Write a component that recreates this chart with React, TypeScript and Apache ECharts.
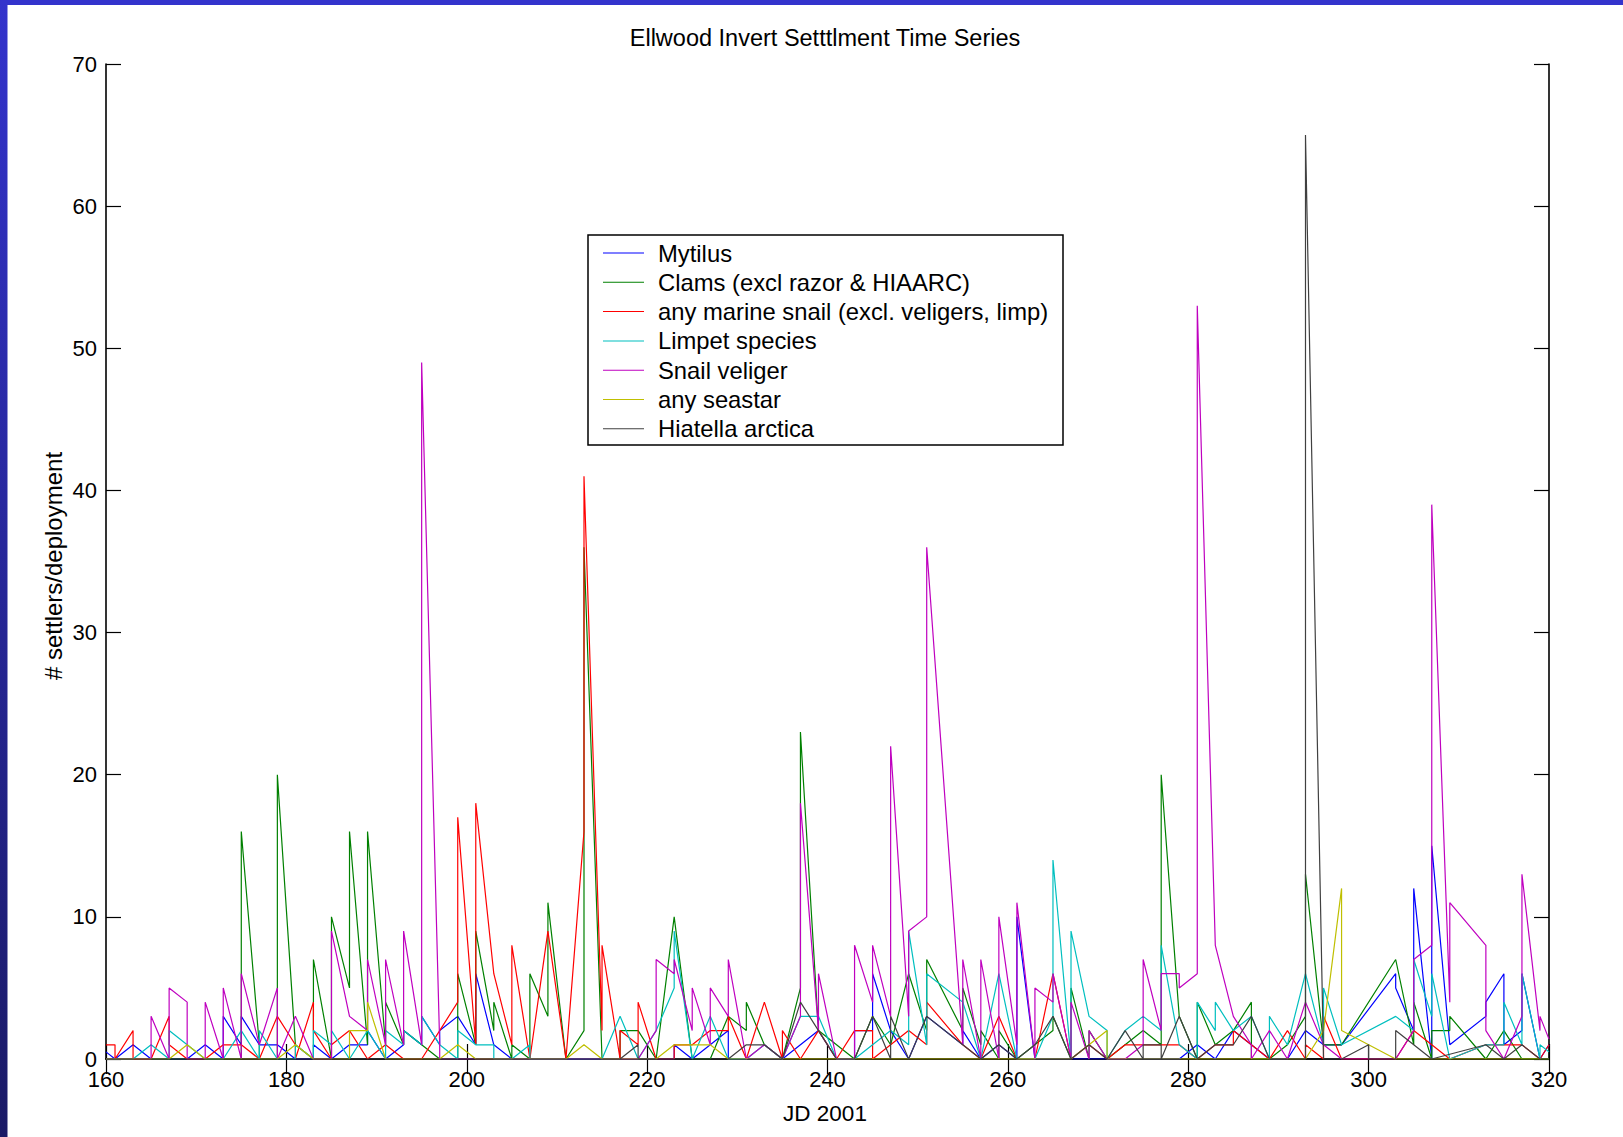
import React, { useEffect, useRef } from "react";
import * as echarts from "echarts";

const chartTitle = "Ellwood Invert Setttlment Time Series";
const xAxisName = "JD 2001";
const yAxisName = "# settlers/deployment";

const seriesNames = [
  "Mytilus",
  "Clams (excl razor & HIAARC)",
  "any marine snail (excl. veligers, limp)",
  "Limpet species",
  "Snail veliger",
  "any seastar",
  "Hiatella arctica",
];
const seriesColors = ["#0000ff", "#008000", "#ff0000", "#00bfbf", "#bf00bf", "#bfbf00", "#404040"];

const mytilus: [number, number][] = [
  [160, 0.5], [161, 0], [163, 1], [165, 0], [167, 0], [169, 0], [171, 1], [173, 0], [173, 3], [175, 1], [175, 3], [177, 1],
  [179, 1], [181, 0], [183, 0], [183, 1], [185, 0], [187, 1], [189, 1], [189, 2], [191, 0], [193, 1], [193, 2], [195, 1],
  [195, 3], [197, 1], [197, 2], [199, 3], [201, 1], [201, 6], [203, 1], [205, 0], [207, 0], [209, 0], [211, 0], [213, 0],
  [215, 0], [217, 0], [219, 0], [221, 0], [223, 0], [223, 1], [225, 0], [227, 1], [229, 2], [229, 0], [231, 0], [233, 0],
  [235, 0], [237, 1], [239, 2], [241, 0], [243, 0], [243, 2], [245, 2], [245, 6], [247, 2], [249, 0], [251, 3], [255, 1],
  [255, 2], [257, 0], [259, 1], [261, 0], [261, 10], [263, 0], [265, 0], [267, 0], [269, 0], [271, 0], [273, 0], [275, 0],
  [277, 0], [279, 0], [281, 1], [283, 0], [285, 2], [287, 1], [289, 0], [291, 0], [293, 2], [295, 1], [297, 1], [303, 6],
  [303, 5], [305, 2], [305, 12], [307, 0], [307, 15], [309, 1], [313, 3], [313, 4], [315, 6], [315, 1], [317, 2], [317, 6],
  [319, 0], [320, 1],
];

const clams: [number, number][] = [
  [160, 0], [161, 0], [163, 0], [165, 0], [167, 0], [169, 0], [171, 0], [173, 0], [175, 0], [175, 16], [177, 1], [177, 0],
  [179, 0], [179, 20], [181, 1], [183, 0], [183, 7], [185, 0], [185, 10], [187, 5], [187, 16], [189, 1], [189, 16], [191, 1],
  [191, 4], [193, 1], [193, 2], [195, 1], [197, 0], [199, 0], [199, 6], [201, 1], [201, 9], [203, 2], [203, 4], [205, 0],
  [205, 1], [207, 0], [207, 6], [209, 3], [209, 11], [211, 0], [213, 2], [213, 36], [215, 0], [217, 0], [217, 2], [219, 2],
  [221, 0], [223, 10], [225, 0], [227, 0], [229, 3], [231, 2], [231, 4], [233, 1], [235, 0], [237, 5], [237, 23], [239, 2],
  [241, 1], [243, 0], [245, 3], [247, 1], [249, 6], [251, 2], [251, 7], [255, 2], [255, 5], [257, 1], [257, 2], [259, 0],
  [259, 2], [261, 0], [263, 1], [265, 2], [265, 3], [267, 0], [267, 5], [269, 0], [269, 2], [271, 0], [273, 1], [275, 2],
  [277, 1], [277, 20], [279, 3], [281, 0], [281, 4], [283, 1], [285, 2], [287, 4], [287, 0], [289, 0], [291, 1], [293, 3],
  [293, 13], [295, 1], [297, 1], [303, 7], [305, 1], [305, 4], [307, 0], [307, 2], [309, 2], [309, 3], [313, 0], [315, 2],
  [317, 0], [319, 0], [320, 0],
];

const marineSnail: [number, number][] = [
  [160, 1], [161, 1], [161, 0], [163, 2], [163, 0], [165, 0], [167, 3], [167, 1], [169, 0], [171, 0], [173, 1], [175, 1],
  [177, 0], [179, 3], [181, 1], [181, 0], [183, 4], [183, 2], [185, 0], [185, 1], [187, 2], [189, 0], [191, 1], [193, 0],
  [195, 0], [197, 2], [199, 4], [199, 17], [201, 1], [201, 18], [203, 6], [205, 1], [205, 8], [207, 0], [209, 9], [211, 0],
  [213, 16], [213, 41], [215, 2], [215, 8], [217, 0], [217, 2], [219, 1], [219, 4], [221, 0], [223, 0], [223, 1], [225, 1],
  [227, 2], [229, 2], [229, 3], [231, 0], [233, 4], [235, 0], [235, 2], [237, 0], [239, 2], [241, 0], [243, 2], [245, 2],
  [245, 0], [247, 1], [249, 2], [251, 1], [251, 4], [255, 1], [257, 0], [259, 3], [261, 0], [263, 0], [265, 6], [267, 0],
  [269, 1], [271, 0], [273, 1], [275, 1], [277, 1], [279, 1], [281, 0], [283, 1], [285, 1], [285, 2], [287, 1], [289, 0],
  [291, 2], [293, 0], [293, 1], [295, 0], [295, 3], [297, 0], [303, 0], [305, 2], [307, 1], [309, 0], [313, 1], [315, 1],
  [317, 1], [319, 0], [320, 1],
];

const limpet: [number, number][] = [
  [160, 0], [163, 0], [165, 1], [167, 0], [167, 2], [169, 1], [171, 0], [173, 0], [175, 2], [177, 0], [177, 2], [179, 0],
  [181, 0], [181, 1], [183, 0], [183, 2], [185, 1], [185, 2], [187, 0], [189, 2], [191, 0], [191, 2], [193, 1], [193, 2],
  [195, 1], [195, 3], [197, 1], [199, 0], [199, 2], [201, 1], [203, 1], [203, 0], [205, 0], [207, 1], [207, 0], [209, 0],
  [211, 0], [213, 0], [215, 0], [217, 3], [219, 0], [221, 2], [223, 5], [223, 9], [225, 0], [227, 3], [229, 0], [231, 0],
  [233, 1], [235, 0], [237, 3], [239, 3], [241, 0], [243, 0], [245, 1], [247, 2], [249, 1], [249, 9], [251, 1], [251, 6],
  [255, 4], [257, 0], [259, 6], [261, 0], [263, 0], [265, 3], [265, 14], [267, 0], [267, 9], [269, 3], [271, 2], [271, 0],
  [273, 2], [275, 3], [277, 2], [277, 8], [279, 1], [281, 0], [281, 4], [283, 2], [283, 4], [285, 2], [287, 3], [289, 0],
  [289, 3], [291, 1], [293, 6], [295, 1], [295, 5], [297, 1], [303, 3], [305, 2], [305, 7], [307, 3], [307, 6], [309, 0],
  [313, 1], [315, 1], [315, 4], [317, 1], [317, 6], [319, 0], [319, 1], [320, 0.5],
];

const snailVeliger: [number, number][] = [
  [160, 0], [163, 0], [165, 0], [165, 3], [167, 0], [167, 5], [169, 4], [169, 0], [171, 0], [171, 4], [173, 0], [173, 5],
  [175, 0], [175, 6], [177, 1], [179, 5], [179, 0], [181, 3], [183, 0], [185, 0], [185, 9], [187, 3], [189, 2], [189, 7],
  [191, 1], [191, 7], [193, 1], [193, 9], [195, 1], [195, 49], [197, 1], [197, 0], [199, 0], [201, 0], [203, 0], [205, 0],
  [207, 0], [209, 0], [211, 0], [213, 0], [215, 0], [217, 0], [219, 0], [221, 2], [221, 7], [223, 6], [223, 7], [225, 2],
  [225, 5], [227, 1], [227, 5], [229, 3], [229, 7], [231, 0], [233, 1], [235, 0], [237, 3], [237, 18], [239, 2], [239, 6],
  [241, 0], [243, 0], [243, 8], [245, 4], [245, 8], [247, 3], [247, 22], [249, 3], [249, 9], [251, 10], [251, 36], [255, 1],
  [255, 7], [257, 0], [257, 7], [259, 0], [259, 10], [261, 1], [261, 11], [263, 0], [263, 5], [265, 4], [265, 6], [267, 0],
  [267, 4], [269, 0], [269, 2], [271, 0], [273, 0], [275, 1], [275, 7], [277, 2], [277, 6], [279, 6], [279, 5], [281, 6],
  [281, 53], [283, 8], [285, 3], [287, 1], [287, 0], [289, 2], [291, 0], [293, 4], [295, 1], [297, 0], [303, 0], [305, 2],
  [305, 7], [307, 8], [307, 39], [309, 4], [309, 11], [313, 8], [313, 2], [315, 0], [317, 3], [317, 13], [319, 2], [319, 3],
  [320, 1.4],
];

const seastar: [number, number][] = [
  [160, 0], [167, 0], [169, 1], [171, 0], [179, 0], [181, 1], [183, 0], [187, 0], [187, 2], [189, 2], [189, 4], [191, 0],
  [195, 0], [197, 0], [199, 1], [201, 0], [211, 0], [213, 1], [215, 0], [219, 0], [221, 0], [223, 1], [225, 1], [227, 1],
  [229, 0], [241, 0], [265, 0], [267, 0], [269, 1], [271, 2], [271, 0], [293, 0], [295, 2], [297, 12], [297, 2], [300, 1],
  [303, 0], [320, 0],
];

const hiatella: [number, number][] = [
  [160, 0], [181, 0], [183, 0], [213, 0], [215, 0], [217, 0], [219, 1], [219, 0], [229, 0], [231, 1], [233, 1], [235, 0],
  [237, 4], [239, 2], [241, 0], [243, 0], [245, 3], [247, 0], [247, 3], [249, 0], [251, 3], [255, 1], [257, 0], [259, 1],
  [261, 0], [263, 1], [265, 3], [267, 0], [269, 1], [271, 0], [273, 2], [275, 0], [275, 1], [277, 1], [277, 0], [279, 3],
  [281, 0], [283, 1], [285, 1], [287, 3], [289, 0], [291, 0], [293, 0], [293, 65], [295, 0], [297, 0], [300, 1], [300, 0],
  [303, 0], [303, 2], [305, 1], [307, 0], [313, 1], [315, 0], [317, 1], [319, 0], [320, 0],
];

const seriesData = [mytilus, clams, marineSnail, limpet, snailVeliger, seastar, hiatella];

const FONT = "Liberation Sans, Arial, sans-serif";

export default function App() {
  const ref = useRef<HTMLDivElement>(null);

  useEffect(() => {
    document.body.style.margin = "0";
    const chart = echarts.init(ref.current!, null, { renderer: "svg" });

    const axisCommon = {
      type: "value",
      axisLine: { show: true, lineStyle: { color: "#000", width: 1.6 } },
      axisTick: { show: true, inside: true, length: 15, lineStyle: { color: "#000", width: 1.2 } },
      splitLine: { show: false },
    };

    chart.setOption({
      animation: false,
      backgroundColor: "#ffffff",
      grid: { left: 106, top: 64, right: 74, bottom: 78, containLabel: false },
      xAxis: [
        {
          ...axisCommon,
          position: "bottom",
          min: 160,
          max: 320,
          interval: 20,
          axisLabel: { show: true, color: "#000", fontSize: 22, fontFamily: FONT, margin: 12, lineHeight: 17 },
        },
        {
          ...axisCommon,
          position: "top",
          min: 160,
          max: 320,
          interval: 20,
          axisLabel: { show: false },
        },
      ],
      yAxis: [
        {
          ...axisCommon,
          position: "left",
          min: 0,
          max: 70,
          interval: 10,
          axisLabel: { show: true, color: "#000", fontSize: 22, fontFamily: FONT, margin: 9, lineHeight: 17 },
        },
        {
          ...axisCommon,
          position: "right",
          min: 0,
          max: 70,
          interval: 10,
          axisLabel: { show: false },
        },
      ],
      legend: {
        show: true,
        orient: "vertical",
        left: 603,
        top: 240,
        padding: 0,
        itemGap: 3.3,
        itemWidth: 41,
        itemHeight: 1,
        icon: "rect",
        selectedMode: false,
        z: 10,
        textStyle: {
          color: "#000",
          fontSize: 23.8,
          fontFamily: FONT,
          lineHeight: 26,
          padding: [0, 0, 0, 9],
        },
        data: seriesNames,
      },
      series: seriesNames.map((name, i) => ({
        name,
        type: "line",
        xAxisIndex: 0,
        yAxisIndex: 0,
        data: seriesData[i],
        showSymbol: false,
        symbol: "none",
        color: seriesColors[i],
        lineStyle: { color: seriesColors[i], width: 1.2 },
        z: 2 + i * 0.01,
      })),
      graphic: [
        {
          type: "rect",
          z: 5,
          shape: { x: 588, y: 235, width: 475, height: 210 },
          style: { fill: "#ffffff", stroke: "#000", lineWidth: 1.5 },
        },
        {
          type: "text",
          z: 20,
          x: 825,
          y: 38,
          style: {
            text: chartTitle,
            fill: "#000",
            font: `23.5px ${FONT}`,
            textAlign: "center",
            textVerticalAlign: "middle",
          },
        },
        {
          type: "text",
          z: 20,
          x: 825,
          y: 1113,
          style: {
            text: xAxisName,
            fill: "#000",
            font: `22.5px ${FONT}`,
            textAlign: "center",
            textVerticalAlign: "middle",
          },
        },
        {
          type: "text",
          z: 20,
          x: 53,
          y: 566,
          rotation: Math.PI / 2,
          style: {
            text: yAxisName,
            fill: "#000",
            font: `24px ${FONT}`,
            textAlign: "center",
            textVerticalAlign: "middle",
          },
        },
        {
          type: "rect",
          z: 100,
          shape: { x: 0, y: 0, width: 1623, height: 5 },
          style: { fill: "#3333cc" },
        },
        {
          type: "rect",
          z: 100,
          shape: { x: 0, y: 0, width: 7.5, height: 1137 },
          style: {
            fill: new echarts.graphic.LinearGradient(0, 0, 0, 1, [
              { offset: 0, color: "#3333cc" },
              { offset: 1, color: "#1a1a66" },
            ]),
          },
        },
      ],
    });

    return () => chart.dispose();
  }, []);

  return <div ref={ref} style={{ width: 1623, height: 1137, background: "#fff" }} />;
}
